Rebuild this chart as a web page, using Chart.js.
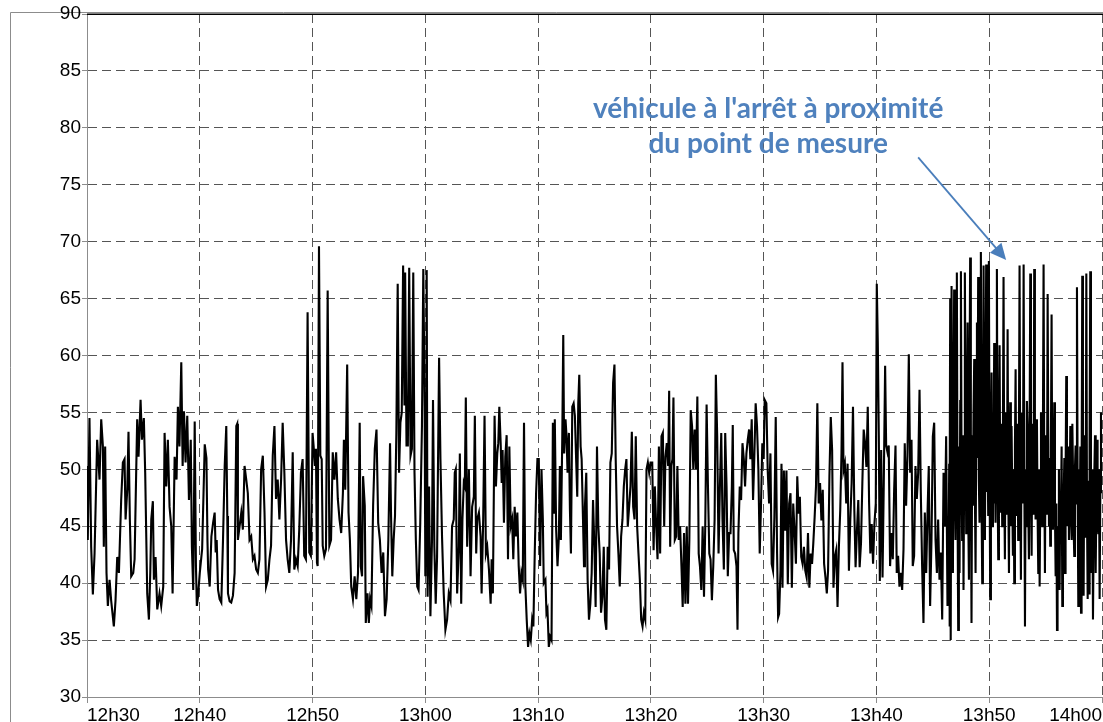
<!DOCTYPE html>
<html>
<head>
<meta charset="utf-8">
<script src="https://cdn.jsdelivr.net/npm/chart.js@4/dist/chart.umd.min.js"></script>
<style>
  html, body { margin: 0; padding: 0; background: #fff; overflow: hidden; }
  #wrap { width: 1103px; height: 722px; position: relative; }
</style>
</head>
<body>
<div id="wrap"><canvas id="c" width="1103" height="722"></canvas></div>
<script>
// ---- Data: [minutes after 12h30, level dB(A)] per 10-minute slice ----
const s12h30 = [[0,50.3],[0.07,43.8],[0.22,54.5],[0.37,43.2],[0.52,39.0],[0.67,42.6],[0.9,52.6],[1.11,49.1],[1.26,54.4],[1.41,52.0],[1.49,43.2],[1.61,52.0],[1.73,40.9],[1.85,38.0],[2,40.3],[2.14,38.5],[2.38,36.2],[2.53,38.5],[2.68,42.3],[2.83,40.9],[3.03,47.3],[3.18,50.6],[3.33,50.9],[3.42,45.6],[3.57,48.2],[3.68,53.3],[3.8,45.6],[3.92,40.6],[4.1,40.9],[4.22,42.1],[4.36,49.7],[4.45,54.4],[4.57,51.1],[4.75,56.1],[4.87,52.6],[5.04,54.5],[5.16,49.7],[5.34,39.1],[5.49,36.8],[5.61,40.9],[5.7,45.6],[5.84,47.2],[5.93,40.3],[6.08,42.3],[6.23,37.7],[6.43,39.1],[6.58,38.0],[6.76,39.7],[6.88,53.2],[7.03,48.5],[7.17,52.6],[7.32,46.7],[7.47,45.0],[7.59,39.1],[7.77,51.1],[7.94,49.1],[8.06,55.5],[8.2,52.0],[8.36,59.4],[8.48,50.3],[8.6,55.1],[8.74,50.6],[8.89,54.7],[9.04,47.3],[9.2,52.6],[9.3,43.2],[9.42,39.4],[9.55,54.2],[9.66,41.5],[9.74,38.0],[9.84,38.8]];
const s12h40 = [[10,40.9],[10.21,43.0],[10.44,52.2],[10.59,51.0],[10.68,43.8],[10.74,41.2],[10.88,39.7],[11.03,44.1],[11.18,45.3],[11.32,46.2],[11.41,42.7],[11.5,43.8],[11.62,39.4],[11.76,38.6],[11.91,38.3],[12.06,43.8],[12.21,50.3],[12.35,53.8],[12.44,45.9],[12.5,39.1],[12.65,38.4],[12.79,38.3],[12.94,38.9],[13.09,40.9],[13.24,53.8],[13.32,54.0],[13.38,43.8],[13.53,45.0],[13.68,46.2],[13.82,44.7],[13.97,50.3],[14.12,49.1],[14.26,47.9],[14.41,43.8],[14.56,44.1],[14.71,42.1],[14.85,42.4],[15,41.2],[15.15,40.9],[15.29,42.1],[15.44,50.0],[15.59,51.2],[15.74,46.2],[15.88,39.7],[16.03,40.3],[16.18,42.1],[16.32,43.3],[16.47,51.2],[16.62,53.8],[16.76,47.4],[16.91,49.1],[17.06,45.6],[17.21,49.1],[17.35,54.1],[17.5,49.7],[17.65,43.8],[17.79,42.1],[17.94,40.9],[18.09,43.8],[18.24,51.5],[18.38,41.2],[18.53,42.1],[18.68,41.5],[18.82,44.7],[18.97,49.7],[19.12,50.9],[19.26,42.4],[19.41,42.1],[19.56,63.8],[19.71,42.7],[19.85,42.4]];
const s12h50 = [[20,53.2],[20.09,52.1],[20.21,50.3],[20.3,51.8],[20.39,41.8],[20.45,41.5],[20.57,69.6],[20.69,51.2],[20.81,50.9],[20.9,43.3],[21.04,42.4],[21.19,43.0],[21.34,65.7],[21.49,43.3],[21.64,43.8],[21.79,51.5],[21.94,49.1],[22.09,51.5],[22.24,47.4],[22.39,45.6],[22.54,44.4],[22.69,47.9],[22.78,52.6],[22.9,48.2],[23.07,59.2],[23.19,46.2],[23.31,43.8],[23.43,39.7],[23.58,38.6],[23.73,40.6],[23.88,38.6],[24.03,40.9],[24.18,54.1],[24.27,41.5],[24.39,40.6],[24.48,49.4],[24.63,46.8],[24.72,36.5],[24.87,39.1],[24.99,36.5],[25.1,38.6],[25.22,38.0],[25.37,46.8],[25.52,51.8],[25.67,53.5],[25.82,45.3],[25.97,43.8],[26.12,40.9],[26.27,42.7],[26.42,37.1],[26.57,38.6],[26.72,43.8],[26.87,52.3],[26.96,45.9],[27.07,40.6],[27.19,43.8],[27.31,45.9],[27.43,53.2],[27.55,66.3],[27.67,49.7],[27.79,54.1],[27.91,55.0],[28.03,67.9],[28.15,55.6],[28.21,67.3],[28.33,52.1],[28.45,52.1],[28.57,67.7],[28.69,51.2],[28.81,51.8],[28.93,67.3],[29.04,49.7],[29.16,43.8],[29.28,39.7],[29.4,39.4],[29.55,45.3],[29.7,53.8],[29.82,67.6],[29.94,55.6]];
const s13h00 = [[30,40.6],[30.06,54.4],[30.12,67.5],[30.2,38.8],[30.33,48.5],[30.45,37.1],[30.59,43.8],[30.68,56.1],[30.8,43.2],[30.92,38.2],[31.04,42.3],[31.22,59.8],[31.34,50.9],[31.48,44.1],[31.63,39.1],[31.78,35.9],[31.93,36.8],[32.08,39.1],[32.23,38.5],[32.37,45.0],[32.52,45.6],[32.61,49.7],[32.7,50.0],[32.82,39.1],[32.97,43.2],[33.06,51.4],[33.18,38.2],[33.29,45.6],[33.41,48.8],[33.5,48.5],[33.59,56.3],[33.71,43.2],[33.86,50.0],[34.01,40.6],[34.15,46.7],[34.3,47.6],[34.39,54.7],[34.51,42.6],[34.6,45.6],[34.75,46.2],[34.9,44.1],[34.99,39.1],[35.13,45.6],[35.25,54.7],[35.37,42.6],[35.49,43.2],[35.64,41.2],[35.79,38.2],[35.88,42.1],[35.99,39.1],[36.14,54.7],[36.26,48.5],[36.38,51.4],[36.47,52.3],[36.56,55.5],[36.68,52.3],[36.77,48.8],[36.85,51.7],[36.97,45.3],[37.09,51.1],[37.21,53.0],[37.33,42.1],[37.45,52.0],[37.57,45.0],[37.69,45.6],[37.8,42.1],[37.92,46.7],[38.04,44.1],[38.16,46.2],[38.28,41.5],[38.4,39.1],[38.52,40.9],[38.64,40.3],[38.75,54.1],[38.87,39.7],[38.99,36.8],[39.11,34.4],[39.23,35.6],[39.35,35.0],[39.47,36.8],[39.58,36.2],[39.7,42.6],[39.82,47.9],[39.94,50.9]];
const s13h10 = [[40.06,50.9],[40.18,41.5],[40.3,50.0],[40.42,45.6],[40.5,40.0],[40.65,40.3],[40.74,37.4],[40.83,37.7],[40.95,34.4],[41.07,35.3],[41.19,35.0],[41.31,54.1],[41.42,46.2],[41.48,54.4],[41.6,44.7],[41.72,41.5],[41.84,44.1],[41.93,50.3],[42.02,43.8],[42.14,52.6],[42.23,61.8],[42.31,51.4],[42.43,54.4],[42.52,52.9],[42.61,49.7],[42.73,53.2],[42.82,46.5],[42.91,42.6],[43.03,55.5],[43.15,55.8],[43.26,54.7],[43.38,50.6],[43.47,47.6],[43.56,55.8],[43.65,58.3],[43.77,52.0],[43.86,50.9],[43.98,45.6],[44.07,41.5],[44.15,46.7],[44.27,49.7],[44.39,40.3],[44.51,36.8],[44.63,38.2],[44.75,40.9],[44.87,47.3],[44.99,43.2],[45.1,37.9],[45.22,52.0],[45.34,45.0],[45.46,42.6],[45.58,37.4],[45.7,38.8],[45.82,43.2],[45.93,36.8],[46.05,35.9],[46.17,43.2],[46.29,41.2],[46.41,50.6],[46.53,51.4],[46.65,57.6],[46.77,59.2],[46.88,50.9],[47,45.0],[47.12,42.6],[47.24,39.7],[47.36,44.1],[47.48,45.6],[47.6,48.5],[47.72,50.0],[47.83,50.9],[47.95,45.0],[48.07,46.7],[48.19,48.5],[48.31,53.3],[48.43,46.7],[48.55,45.6],[48.66,52.9],[48.78,45.0],[48.9,42.6],[49.02,40.3],[49.14,36.8],[49.26,36.2],[49.38,37.4],[49.5,36.8],[49.61,50.0],[49.73,50.6],[49.85,49.7]];
const s13h20 = [[49.97,50.6],[50.12,50.6],[50.24,42.9],[50.35,48.5],[50.47,45.0],[50.59,42.1],[50.71,52.0],[50.82,42.6],[50.94,52.9],[51.06,53.2],[51.18,45.0],[51.29,51.1],[51.41,52.3],[51.53,50.3],[51.62,56.9],[51.71,43.2],[51.82,50.3],[51.91,50.9],[52,56.3],[52.12,43.8],[52.24,44.1],[52.35,50.3],[52.47,43.8],[52.59,45.0],[52.71,41.5],[52.82,37.9],[52.94,44.4],[53.06,38.2],[53.18,45.0],[53.29,38.2],[53.41,43.8],[53.53,55.2],[53.65,53.8],[53.76,50.0],[53.88,53.5],[54,50.0],[54.12,56.4],[54.24,42.6],[54.35,41.5],[54.47,39.4],[54.59,45.0],[54.71,38.8],[54.82,45.0],[54.94,55.7],[55.06,48.5],[55.18,42.6],[55.29,42.1],[55.41,38.5],[55.53,41.5],[55.65,45.6],[55.76,58.3],[55.88,52.9],[56,42.6],[56.12,48.5],[56.24,53.2],[56.35,45.6],[56.47,41.2],[56.59,53.2],[56.71,48.5],[56.82,40.6],[56.94,44.4],[57.06,44.4],[57.18,48.5],[57.26,53.9],[57.35,42.9],[57.47,42.6],[57.59,41.5],[57.68,35.9],[57.76,44.4],[57.88,48.5],[58,47.3],[58.12,52.3],[58.24,50.9],[58.35,48.5],[58.47,51.4],[58.59,52.6],[58.71,53.5],[58.82,50.9],[58.94,54.4],[59.06,47.3],[59.18,51.4],[59.29,55.8],[59.41,53.8],[59.53,50.0],[59.65,42.6],[59.76,46.7],[59.88,52.3]];
const s13h30 = [[60,50.9],[60.09,56.1],[60.24,55.8],[60.36,49.9],[60.48,47.0],[60.6,51.4],[60.71,41.7],[60.83,41.1],[60.95,45.8],[61.07,54.6],[61.19,42.6],[61.28,37.0],[61.37,37.3],[61.49,41.1],[61.58,50.5],[61.67,39.6],[61.79,49.9],[61.9,44.6],[62.02,49.9],[62.14,39.9],[62.26,47.0],[62.38,47.9],[62.5,39.6],[62.62,47.0],[62.74,44.6],[62.86,41.7],[62.98,49.4],[63.1,46.1],[63.21,47.6],[63.33,42.3],[63.45,41.7],[63.57,43.2],[63.69,41.1],[63.81,40.5],[63.93,44.4],[64.05,39.6],[64.17,42.6],[64.29,41.7],[64.4,43.5],[64.52,45.8],[64.64,48.5],[64.76,55.8],[64.88,47.0],[65,48.8],[65.12,45.5],[65.24,48.2],[65.36,41.7],[65.48,40.5],[65.6,39.1],[65.71,41.1],[65.83,49.4],[65.95,54.6],[66.07,51.7],[66.19,39.6],[66.31,42.3],[66.43,42.9],[66.55,37.9],[66.67,43.2],[66.79,46.4],[66.9,51.4],[66.99,59.4],[67.08,49.9],[67.2,50.5],[67.32,47.0],[67.44,50.5],[67.56,41.1],[67.68,45.5],[67.8,48.8],[67.92,55.5],[68.04,46.4],[68.15,41.4],[68.27,44.6],[68.39,47.3],[68.51,41.4],[68.63,43.5],[68.75,48.8],[68.87,53.5],[68.99,52.3],[69.11,50.2],[69.23,55.5],[69.35,47.0],[69.46,42.6],[69.58,45.2],[69.7,41.7],[69.82,45.2],[69.94,47.0]];
const s13h40 = [[70.03,66.3],[70.12,61.1],[70.21,52.9],[70.3,40.2],[70.42,51.7],[70.54,40.5],[70.65,48.8],[70.77,59.1],[70.86,52.1],[70.98,51.5],[71.09,52.1],[71.21,41.5],[71.33,44.4],[71.45,42.1],[71.57,48.2],[71.69,52.1],[71.8,40.9],[71.92,42.4],[72.04,39.7],[72.16,40.9],[72.28,39.4],[72.4,43.0],[72.51,52.3],[72.63,46.8],[72.75,51.2],[72.87,60.1],[72.99,49.7],[73.11,52.6],[73.22,41.5],[73.34,42.4],[73.46,50.3],[73.58,47.4],[73.7,49.7],[73.82,57.0],[73.93,48.2],[74.05,41.5],[74.17,36.5],[74.29,46.2],[74.41,40.9],[74.53,46.2],[74.64,50.3],[74.76,38.0],[74.88,43.8],[75,52.9],[75.12,54.1],[75.24,43.8],[75.36,40.9],[75.47,45.6],[75.59,40.3],[75.71,42.7],[75.83,36.8],[75.95,49.7],[76.07,45.0],[76.18,52.9],[76.3,38.0],[76.42,45.0],[76.45,50.5],[76.48,36.2],[76.51,48],[76.54,65.0],[76.57,47],[76.6,35.0],[76.63,52],[76.66,66.1],[76.72,50],[76.78,40.9],[76.83,54],[76.89,65.8],[76.95,48],[77.01,43.8],[77.07,55],[77.13,67.3],[77.19,47],[77.25,35.9],[77.31,52],[77.37,40.9],[77.43,56],[77.49,67.4],[77.55,49],[77.6,43.8],[77.66,53],[77.72,39.4],[77.78,50],[77.84,67.3],[77.9,55],[77.96,44.4],[78.02,52],[78.08,62.9],[78.14,46],[78.2,40.3],[78.25,57],[78.31,68.6],[78.37,50],[78.43,36.5],[78.49,53],[78.55,46.8],[78.61,55],[78.67,59.7],[78.73,48],[78.79,40.9],[78.85,54],[78.91,62.9],[78.96,51],[79.02,66.9],[79.08,49],[79.14,45.3],[79.2,56],[79.26,69.1],[79.32,47],[79.38,40.0],[79.44,54],[79.5,67.9],[79.56,50],[79.62,43.8],[79.68,58],[79.73,68.0],[79.79,48],[79.85,52.6],[79.91,46],[79.97,68.3]];
const s13h50 = [[80.03,50],[80.09,38.6],[80.15,51],[80.21,58.5],[80.27,45],[80.33,53.8],[80.38,47],[80.44,61.1],[80.5,51],[80.56,45.3],[80.62,55],[80.68,67.6],[80.74,49],[80.8,42.1],[80.86,52],[80.92,60.9],[80.98,47],[81.04,46.2],[81.1,54],[81.15,45.0],[81.21,52],[81.27,66.9],[81.33,49],[81.39,42.1],[81.45,55],[81.51,50.3],[81.57,46],[81.63,62.3],[81.69,48],[81.75,40.9],[81.8,51],[81.86,55.9],[81.92,45],[81.98,53.8],[82.04,48],[82.1,42.4],[82.16,50],[82.22,40.0],[82.28,52],[82.34,58.8],[82.4,46],[82.46,50.9],[82.51,54],[82.57,43.8],[82.63,52],[82.69,67.9],[82.75,49],[82.81,40.3],[82.87,55],[82.93,52.6],[82.99,47],[83.05,68.0],[83.11,50],[83.17,36.2],[83.22,48],[83.28,45.0],[83.34,56],[83.4,53.8],[83.46,47],[83.52,42.1],[83.58,53],[83.64,67.2],[83.7,49],[83.76,42.4],[83.82,54],[83.88,50.9],[83.93,46],[83.99,67.6],[84.05,52],[84.11,45.6],[84.17,49],[84.23,54.4],[84.29,46],[84.35,40.9],[84.41,50],[84.47,39.7],[84.53,48],[84.59,55.0],[84.64,47],[84.7,45.0],[84.76,53],[84.82,68.0],[84.88,50],[84.94,40.9],[85,53],[85.06,49.7],[85.12,46],[85.18,65.4],[85.24,51],[85.3,45.0],[85.35,50],[85.41,43.3],[85.47,52],[85.53,63.6],[85.59,48],[85.65,44.7],[85.71,51],[85.77,55.9],[85.83,46],[85.89,40.6],[85.95,47],[86.01,35.9],[86.06,45],[86.12,43.8],[86.18,50],[86.24,39.4],[86.3,48],[86.36,46.2],[86.42,52],[86.48,38.0],[86.54,46],[86.6,47.4],[86.66,51],[86.72,40.9],[86.77,49],[86.83,58.2],[86.89,45],[86.95,49.1],[87.01,52],[87.07,43.8],[87.13,48],[87.19,53.8],[87.25,46],[87.31,43.8],[87.37,54],[87.43,49.7],[87.48,45],[87.54,42.4],[87.6,50],[87.66,52.1],[87.72,47],[87.78,66.0],[87.84,48],[87.9,38.0],[87.96,50],[88.02,43.8],[88.08,52],[88.14,37.4],[88.19,48],[88.25,67.0],[88.31,47],[88.37,38.9],[88.43,53],[88.49,48.2],[88.55,44],[88.61,67.2],[88.67,46],[88.73,38.6],[88.79,49],[88.85,39.1],[88.9,52],[88.96,67.4],[89.02,45],[89.08,40.9],[89.14,50],[89.2,36.8],[89.26,44],[89.32,49.7],[89.38,53],[89.44,40.9],[89.5,47],[89.56,52.6],[89.61,46],[89.67,44.4],[89.73,50],[89.79,38.6],[89.85,48],[89.91,55.0],[89.96,50],[90,48.0]];

const timeTickLabels = ['12h30','12h40','12h50','13h00','13h10','13h20','13h30','13h40','13h50','14h00'];
const noteLines = ["véhicule à l'arrêt à proximité", "du point de mesure"];
// annotation anchors in data units [minute, dB]
const noteAnchor = [[60.4, 81.7], [60.4, 78.6]];
const arrowFrom = [73.7, 77.4];
const arrowTo = [81.5, 68.4];

const slices = [s12h30, s12h40, s12h50, s13h00, s13h10, s13h20, s13h30, s13h40, s13h50];
const points = [];
slices.forEach(s => s.forEach(p => points.push({ x: p[0], y: p[1] })));

const frame = {
  id: 'frame',
  beforeDraw(chart) {
    const c = chart.ctx;
    c.save();
    c.fillStyle = '#fff';
    c.fillRect(0, 0, chart.width, chart.height);
    c.strokeStyle = '#8c8c8c';
    c.lineWidth = 1;
    c.beginPath();
    c.moveTo(10.5, chart.height);
    c.lineTo(10.5, 12.5);
    c.lineTo(chart.width, 12.5);
    c.stroke();
    c.restore();
  },
  afterDraw(chart) {
    const c = chart.ctx, a = chart.chartArea;
    const xs = chart.scales.x, ys = chart.scales.y;
    c.save();
    c.strokeStyle = '#000';
    c.lineWidth = 1.5;
    c.beginPath();
    c.moveTo(a.left, a.top + 0.25);
    c.lineTo(a.right + 1, a.top + 0.25);
    c.stroke();
    // annotation
    c.fillStyle = '#4F81BD';
    c.font = 'bold 28px Lato';
    c.textAlign = 'center';
    c.textBaseline = 'middle';
    noteLines.forEach((t, i) => {
      c.fillText(t, xs.getPixelForValue(noteAnchor[i][0]), ys.getPixelForValue(noteAnchor[i][1]));
    });
    const x1 = xs.getPixelForValue(arrowFrom[0]), y1 = ys.getPixelForValue(arrowFrom[1]);
    const x2 = xs.getPixelForValue(arrowTo[0]), y2 = ys.getPixelForValue(arrowTo[1]);
    const ang = Math.atan2(y2 - y1, x2 - x1);
    const hl = 16, hw = 7.5;
    c.strokeStyle = '#4A7EBB';
    c.fillStyle = '#4A7EBB';
    c.lineWidth = 1.8;
    c.beginPath();
    c.moveTo(x1, y1);
    c.lineTo(x2 - Math.cos(ang) * hl * 0.8, y2 - Math.sin(ang) * hl * 0.8);
    c.stroke();
    c.beginPath();
    c.moveTo(x2, y2);
    c.lineTo(x2 - Math.cos(ang) * hl - Math.sin(ang) * hw, y2 - Math.sin(ang) * hl + Math.cos(ang) * hw);
    c.lineTo(x2 - Math.cos(ang) * hl + Math.sin(ang) * hw, y2 - Math.sin(ang) * hl - Math.cos(ang) * hw);
    c.closePath();
    c.fill();
    c.restore();
  }
};

const tickFont = { family: "'Liberation Sans', Arial, sans-serif", size: 19 };

new Chart(document.getElementById('c'), {
  type: 'line',
  data: {
    datasets: [{
      data: points,
      borderColor: '#000',
      borderWidth: 2.1,
      pointRadius: 0,
      tension: 0,
      fill: false
    }]
  },
  options: {
    responsive: false,
    animation: false,
    devicePixelRatio: 1,
    layout: { padding: { top: 14, right: 1, left: 0, bottom: 0 } },
    plugins: { legend: { display: false }, tooltip: { enabled: false } },
    scales: {
      x: {
        type: 'linear',
        min: 0,
        max: 90,
        afterFit: s => { s.height = 25; },
        ticks: {
          stepSize: 10,
          align: 'inner',
          autoSkip: false,
          maxRotation: 0,
          padding: 1,
          color: '#000',
          font: tickFont,
          callback: v => timeTickLabels[Math.round(v / 10)]
        },
        grid: {
          color: '#555',
          lineWidth: 1,
          tickLength: 6,
          tickColor: '#8c8c8c',
          tickBorderDash: [20, 0]
        },
        border: { display: true, color: '#8c8c8c', width: 1, dash: [9, 5] }
      },
      y: {
        min: 30,
        max: 90,
        afterFit: s => { s.width = 87; },
        ticks: {
          stepSize: 5,
          padding: 1,
          color: '#000',
          font: tickFont
        },
        grid: {
          color: '#555',
          lineWidth: 1,
          tickLength: 5,
          tickColor: '#8c8c8c',
          tickBorderDash: [20, 0]
        },
        border: { display: true, color: '#8c8c8c', width: 1, dash: [9, 5] }
      }
    }
  },
  plugins: [frame]
});
</script>
</body>
</html>
